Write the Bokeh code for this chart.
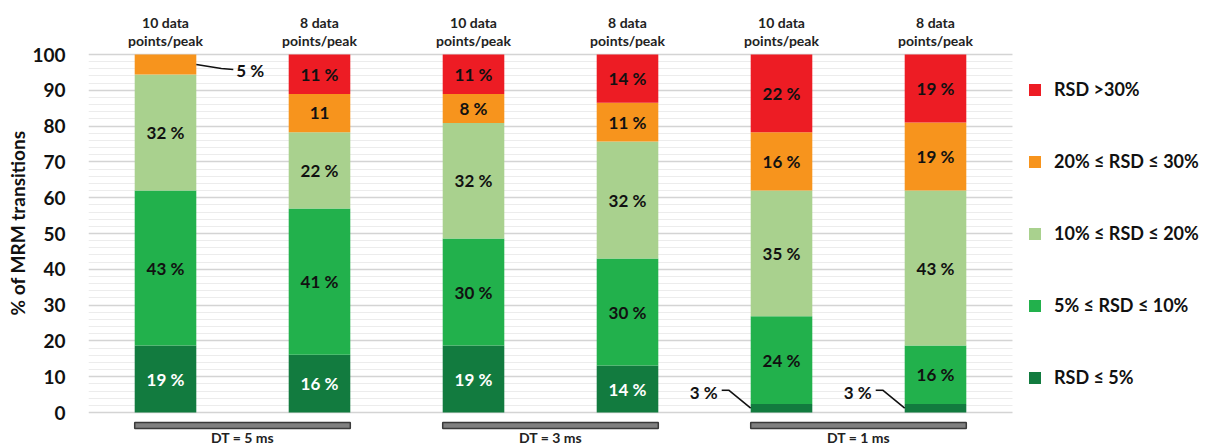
import numpy as np
from bokeh.plotting import figure
from bokeh.models import ColumnDataSource, Range1d, FixedTicker, Legend, LegendItem
from bokeh.core.properties import value
from bokeh.embed import file_html
from bokeh.resources import INLINE

# ---------------- data ----------------
top_line1 = ["10 data", "8 data", "10 data", "8 data", "10 data", "8 data"]
top_line2 = ["points/peak", "points/peak", "points/peak", "points/peak", "points/peak", "points/peak"]
groups = ["DT = 5 ms", "DT = 3 ms", "DT = 1 ms"]
group_first = [0, 2, 4]
group_last = [1, 3, 5]

series_names = ["RSD ≤ 5%", "5% ≤ RSD ≤ 10%", "10% ≤ RSD ≤ 20%", "20% ≤ RSD ≤ 30%", "RSD >30%"]
rsd_le5 = [18.7, 16.1, 18.7, 13.1, 2.4, 2.4]
rsd_5_10 = [43.3, 40.9, 29.9, 29.9, 24.5, 16.3]
rsd_10_20 = [32.4, 21.3, 32.3, 32.7, 35.1, 43.3]
rsd_20_30 = [5.6, 10.7, 8.1, 10.8, 16.3, 19.0]
rsd_gt30 = [0.0, 11.0, 11.0, 13.5, 21.7, 19.0]

lab_le5 = ["19 %", "16 %", "19 %", "14 %", "3 %", "3 %"]
lab_5_10 = ["43 %", "41 %", "30 %", "30 %", "24 %", "16 %"]
lab_10_20 = ["32 %", "22 %", "32 %", "32 %", "35 %", "43 %"]
lab_20_30 = ["5 %", "11", "8 %", "11 %", "16 %", "19 %"]
lab_gt30 = ["", "11 %", "11 %", "14 %", "22 %", "19 %"]

y_ticks = [0, 10, 20, 30, 40, 50, 60, 70, 80, 90, 100]

# ---------------- styling ----------------
colors = ["#127B3F", "#22B14C", "#A9D18E", "#F7941D", "#ED1C24"]
FONT = value("Lato")
W, H = 1208, 445
LEFT = 88
PLOT_W = 924        # width of the bar area (grid extent)
PXY = 3.58          # pixels per y unit
Y0_PX = 412         # pixel row of y = 0 (from top)
y_end = 100 + (Y0_PX - 100 * PXY) / PXY
y_start = -(H - Y0_PX) / PXY

n = len(top_line1)
xs = list(range(n))
PXX = PLOT_W / n    # pixels per x unit
x_lo = -0.5
x_bar_hi = n - 0.5
x_hi = x_bar_hi + (W - LEFT - PLOT_W) / PXX

p = figure(width=W, height=H, x_range=Range1d(x_lo, x_hi),
           y_range=Range1d(y_start, y_end),
           output_backend="svg", toolbar_location=None,
           x_axis_location=None,
           min_border_left=LEFT, min_border_right=0,
           min_border_top=0, min_border_bottom=0)
p.outline_line_color = None
p.background_fill_color = "white"
p.border_fill_color = "white"

ax = p.yaxis[0]
ax.ticker = FixedTicker(ticks=y_ticks,
                        minor_ticks=[v for v in range(0, 101, 2) if v % 10])
ax.axis_line_color = None
ax.major_tick_line_color = None
ax.minor_tick_line_color = None
ax.major_label_standoff = 17
ax.major_label_text_font = "Lato"
ax.major_label_text_font_style = "bold"
ax.major_label_text_font_size = "19px"
ax.major_label_text_color = "#111111"
ax.axis_label = "% of MRM transitions"
ax.axis_label_text_font = "Lato"
ax.axis_label_text_font_style = "bold"
ax.axis_label_text_font_size = "19px"
ax.axis_label_text_color = "#111111"
ax.axis_label_standoff = 0

p.xgrid.grid_line_color = None
yg = p.ygrid[0]
yg.grid_line_color = "#d4d4d4"
yg.grid_line_width = 1.5
yg.minor_grid_line_color = "#ececec"
yg.minor_grid_line_width = 1
if "cross_bounds" in yg.properties():
    yg.cross_bounds = (x_lo, x_bar_hi)
else:
    # mask the grid to the right of the bar area (legend region)
    p.quad(left=[x_bar_hi], right=[x_hi], bottom=[y_start], top=[y_end],
           fill_color="white", line_color=None, level="underlay")

keys = ["le5", "r5_10", "r10_20", "r20_30", "gt30"]
src = ColumnDataSource(dict(x=xs, le5=rsd_le5, r5_10=rsd_5_10, r10_20=rsd_10_20,
                            r20_30=rsd_20_30, gt30=rsd_gt30))
BAR_W = 0.4
rends = p.vbar_stack(keys, x="x", width=BAR_W, fill_color=colors, line_color=None,
                     source=src)

# segment labels
stack = np.array([rsd_le5, rsd_5_10, rsd_10_20, rsd_20_30, rsd_gt30])
labels = [lab_le5, lab_5_10, lab_10_20, lab_20_30, lab_gt30]
tops = np.cumsum(stack, axis=0)
mids = tops - stack / 2

in_x, in_y, in_t, in_c = [], [], [], []
co_x, co_y, co_t, co_align = [], [], [], []
ln_xs, ln_ys = [], []
for i in range(stack.shape[0]):
    for j in range(n):
        t = labels[i][j]
        if not t:
            continue
        v = stack[i, j]
        m = mids[i, j]
        if v >= 7:
            in_x.append(xs[j]); in_y.append(m); in_t.append(t)
            in_c.append("white" if i == 0 else "#111111")
        else:
            if j < 4:  # callout to the right
                x0 = xs[j] + BAR_W / 2
                ln_xs.append([x0, x0 + 25 / PXX, x0 + 37 / PXX])
                ln_ys.append([m, m - 4 / PXY, m - 5 / PXY])
                co_x.append(x0 + 40 / PXX); co_y.append(m - 5.5 / PXY)
                co_t.append(t); co_align.append("left")
            else:      # callout to the left
                x0 = xs[j] - BAR_W / 2
                ln_xs.append([x0, x0 - 22 / PXX, x0 - 29 / PXX])
                ln_ys.append([m, m + 18 / PXY, m + 18 / PXY])
                co_x.append(x0 - 33 / PXX); co_y.append(m + 16 / PXY)
                co_t.append(t); co_align.append("right")

p.text(x=in_x, y=in_y, text=in_t, text_color=in_c, text_font=FONT,
       text_font_style="bold", text_font_size="17px",
       text_align="center", text_baseline="middle")
p.multi_line(xs=ln_xs, ys=ln_ys, line_color="#111111", line_width=1.6)
p.text(x=co_x, y=co_y, text=co_t, text_align=co_align, text_color="#111111",
       text_font=FONT, text_font_style="bold", text_font_size="17px",
       text_baseline="middle")

# top category labels
p.text(x=xs, y=[100 + 32 / PXY] * n, text=top_line1, text_font=FONT,
       text_font_style="bold", text_font_size="14px", text_color="#222222",
       text_align="center", text_baseline="middle")
p.text(x=xs, y=[100 + 14 / PXY] * n, text=top_line2, text_font=FONT,
       text_font_style="bold", text_font_size="14px", text_color="#222222",
       text_align="center", text_baseline="middle")

# group brackets and labels
gl = [g - BAR_W / 2 for g in group_first]
gr = [g + BAR_W / 2 for g in group_last]
gc = [(a + b) / 2 for a, b in zip(group_first, group_last)]
p.quad(left=gl, right=gr, bottom=[-16 / PXY] * 3, top=[-10 / PXY] * 3,
       fill_color="#808080", line_color="#3a3a3a", line_width=1.5)
p.text(x=gc, y=[-25 / PXY] * 3, text=groups, text_font=FONT,
       text_font_style="bold", text_font_size="14px", text_color="#222222",
       text_align="center", text_baseline="middle")

# legend (right of the bar area)
items = [LegendItem(label=series_names[k], renderers=[rends[k]])
         for k in range(len(rends) - 1, -1, -1)]
legend = Legend(items=items, location=(PLOT_W + 15, 57))
legend.padding = 4
legend.margin = 0
legend.spacing = 50
legend.glyph_width = 15
legend.glyph_height = 15
legend.label_height = 22
legend.label_standoff = 12
legend.label_text_font = "Lato"
legend.label_text_font_style = "bold"
legend.label_text_font_size = "18px"
legend.label_text_color = "#111111"
legend.border_line_color = None
legend.background_fill_alpha = 0
p.add_layout(legend)

open("out.html", "w").write(file_html(p, INLINE))
